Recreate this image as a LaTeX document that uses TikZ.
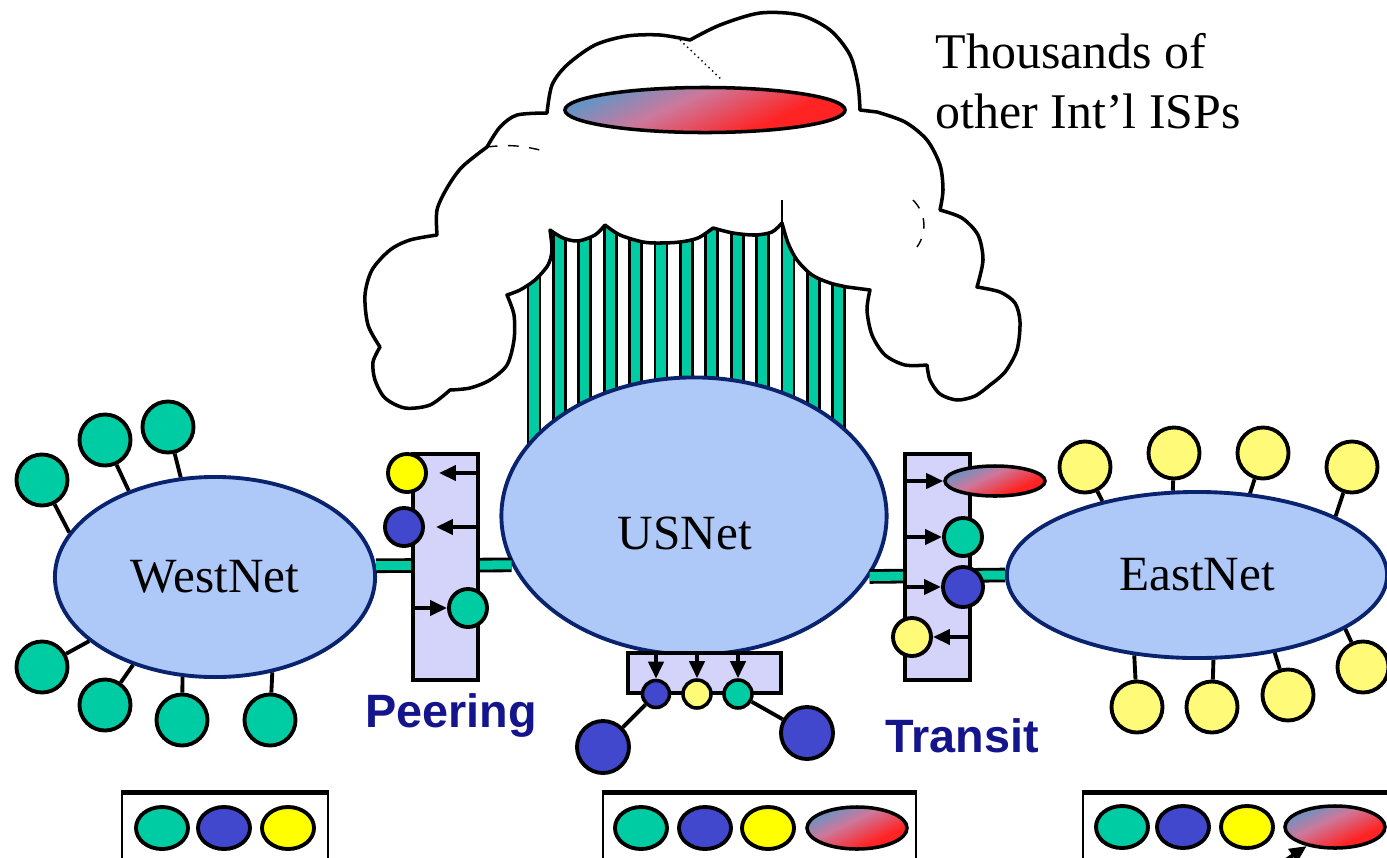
\documentclass[tikz,border=0pt]{standalone}
\usepackage{fontspec}
\setmainfont{Liberation Serif}
\setsansfont{Liberation Sans}
\usepackage{tikz}
\usetikzlibrary{arrows.meta,shapes.geometric}
\usepackage{xcolor}
\definecolor{NetFill}{RGB}{174,200,248}
\definecolor{NetLine}{RGB}{10,35,110}
\definecolor{NetGreen}{RGB}{0,204,163}
\definecolor{NetBlue}{RGB}{66,72,205}
\definecolor{NetYellow}{RGB}{255,255,0}
\definecolor{PaleYellow}{RGB}{255,250,120}
\definecolor{BoxFill}{RGB}{212,212,250}
\definecolor{GradBlue}{RGB}{55,160,215}
\definecolor{GradMauve}{RGB}{205,120,155}
\definecolor{GradRed}{RGB}{255,35,35}
\definecolor{TagBlue}{RGB}{20,20,140}
\pgfdeclareverticalshading{IspShade}{100bp}{color(0bp)=(GradRed); color(34bp)=(GradRed);
	color(57bp)=(GradMauve); color(82bp)=(GradBlue); color(100bp)=(GradBlue)}

\begin{document}
\begin{tikzpicture}[
			x=0.01cm, y=-0.01cm,
			NetStyle/.style={ellipse, draw=NetLine, line width=1.1pt, fill=NetFill,
				inner sep=0pt, font=\fontsize{14}{16}\selectfont},
			SatStyle/.style={circle, draw, line width=1.1pt, minimum size=0.51cm, inner sep=0pt},
			SmallStyle/.style={circle, draw, line width=1.1pt, minimum size=0.38cm, inner sep=0pt},
			TinyStyle/.style={circle, draw, line width=1pt, minimum size=0.27cm, inner sep=0pt},
			BoxStyle/.style={rectangle, draw, line width=1pt, fill=BoxFill, inner sep=0pt},
			GradStyle/.style={ellipse, draw, line width=1pt, inner sep=0pt,
				shading=IspShade, shading angle=25},
			LinkStyle/.style={draw=black, line width=0.8pt, double=NetGreen, double distance=0.09cm},
			WireStyle/.style={line width=1.1pt},
			ArrowStyle/.style={line width=1.1pt, -{Triangle[length=0.17cm, width=0.15cm]}},
			TagStyle/.style={font=\sffamily\bfseries\fontsize{13.3}{15}\selectfont, text=TagBlue,
				inner sep=0pt, anchor=base},
			LegendStyle/.style={ellipse, draw, line width=1.1pt, minimum width=0.52cm,
				minimum height=0.42cm, inner sep=0pt},
			]
			\useasboundingbox (0,0) rectangle (1387,857);
			\clip (0,0) rectangle (1387,857);
			% stripes under the cloud
			\foreach \i in {0,...,12}
				\draw[fill=NetGreen, line width=0.8pt] (528+25.4*\i,195) rectangle (540+25.4*\i,460);
			\draw[fill=white, line width=1pt, line join=round]
				plot[smooth] coordinates {(547,113) (552,85) (567,65) (595,45) (627,36) (660,35) (690,40)}
				-- plot[smooth] coordinates {(690,40) (720,25) (760,13) (800,15) (830,30) (850,55) (858,85) (860,110)}
				-- (877,112)
				-- plot[smooth] coordinates {(877,112) (905,122) (927,140) (940,165) (943,190) (940,210)}
				-- plot[smooth] coordinates {(940,210) (962,218) (978,235) (983,260) (977,287)}
				-- plot[smooth] coordinates {(977,287) (1000,292) (1015,303) (1020,322) (1017,350) (1005,372) (990,385)}
				-- plot[smooth] coordinates {(990,385) (975,396) (957,400) (940,394) (930,380) (927,365)}
				-- plot[smooth] coordinates {(927,365) (905,365) (885,355) (872,335) (867,310) (870,290)}
				-- (847,287)
				-- plot[smooth] coordinates {(847,287) (830,283) (812,275) (797,260) (788,243) (782,223)}
				-- plot[smooth] coordinates {(782,223) (772,232) (755,235) (733,233) (713,228)}
				-- plot[smooth] coordinates {(713,228) (698,238) (680,242) (660,243) (643,242) (620,235) (605,225)}
				-- plot[smooth] coordinates {(605,225) (595,235) (578,241) (563,238) (550,230)}
				-- plot[smooth] coordinates {(550,230) (552,250) (548,265) (535,280) (520,290) (507,295)}
				-- plot[smooth] coordinates {(507,295) (514,315) (514,340) (507,365) (490,380) (470,388) (450,390)}
				-- plot[smooth] coordinates {(450,390) (430,405) (405,408) (385,398) (375,380) (373,362) (380,347)}
				-- plot[smooth] coordinates {(380,347) (368,325) (365,295) (372,270) (390,250) (410,240) (437,235)}
				-- plot[smooth] coordinates {(437,235) (437,210) (447,188) (462,167) (487,147)}
				-- plot[smooth] coordinates {(487,147) (500,127) (517,115) (547,113)}
				-- cycle;
			\draw[line width=0.4pt, dashed] (487,147) to[bend left=10] (540,150);
			\draw[line width=0.4pt, densely dotted] (680,40) -- (722,80);
			\draw[line width=0.4pt, dashed] (913,200) to[bend left=40] (917,247);
			\draw[line width=0.5pt] (782,200) -- (782,223);
			\node [GradStyle, minimum width=2.8cm, minimum height=0.45cm] (isp) at (705,110) {};
			\node [anchor=north west, align=left, inner sep=0pt,
				font=\fontsize{14.2}{17}\selectfont] (others) at (935,33)
				{Thousands of\\other Int'l ISPs};

			\node [NetStyle, minimum width=3.2cm, minimum height=2.0cm] (west) at (215,577) {WestNet};
			\node [NetStyle, minimum width=3.85cm, minimum height=2.77cm] (us) at (694,516) {};
			\node [font=\fontsize{14}{16}\selectfont] (uslabel) at (685,533) {USNet};
			\node [NetStyle, minimum width=3.8cm, minimum height=1.66cm] (east) at (1197,575) {EastNet};

			\draw[LinkStyle] (west.4) -- (us.195.6);
			\draw[LinkStyle] (us.341.3) -- (east.west);

			\node [SatStyle, fill=NetGreen] (w1) at (42,480) {};
			\node [SatStyle, fill=NetGreen] (w2) at (105,440) {};
			\node [SatStyle, fill=NetGreen] (w3) at (168,427) {};
			\node [SatStyle, fill=NetGreen] (w4) at (42,667) {};
			\node [SatStyle, fill=NetGreen] (w5) at (105,705) {};
			\node [SatStyle, fill=NetGreen] (w6) at (182,720) {};
			\node [SatStyle, fill=NetGreen] (w7) at (270,720) {};
			\draw[WireStyle] (w1) -- (west.163);
			\draw[WireStyle] (w2) -- (west.135);
			\draw[WireStyle] (w3) -- (west.109);
			\draw[WireStyle] (w4) -- (west.207);
			\draw[WireStyle] (w5) -- (west.227);
			\draw[WireStyle] (w6) -- (west.252);
			\draw[WireStyle] (w7) -- (west.301);

			\node [SatStyle, fill=PaleYellow] (e1) at (1085,467) {};
			\node [SatStyle, fill=PaleYellow] (e2) at (1174,453) {};
			\node [SatStyle, fill=PaleYellow] (e3) at (1263,453) {};
			\node [SatStyle, fill=PaleYellow] (e4) at (1352,467) {};
			\node [SatStyle, fill=PaleYellow] (e5) at (1363,667) {};
			\node [SatStyle, fill=PaleYellow] (e6) at (1288,695) {};
			\node [SatStyle, fill=PaleYellow] (e7) at (1212,707) {};
			\node [SatStyle, fill=PaleYellow] (e8) at (1137,707) {};
			\draw[WireStyle] (e1) -- (east.142);
			\draw[WireStyle] (e2) -- (east.106);
			\draw[WireStyle] (e3) -- (east.57);
			\draw[WireStyle] (e4) -- (east.23);
			\draw[WireStyle] (e5) -- (east.340);
			\draw[WireStyle] (e6) -- (east.315);
			\draw[WireStyle] (e7) -- (east.281);
			\draw[WireStyle] (e8) -- (east.232);

			\node [BoxStyle, minimum width=0.65cm, minimum height=2.26cm] (pe) at (445.5,567) {};
			\node [SmallStyle, fill=NetYellow] (py) at (407,473) {};
			\node [SmallStyle, fill=NetBlue] (pb) at (404,527) {};
			\node [SmallStyle, fill=NetGreen] (pg) at (468,608) {};
			\draw[ArrowStyle, shorten >=0.11cm] (pe.east |- py) -- (py);
			\draw[ArrowStyle, shorten >=0.11cm] (pe.east |- pb) -- (pb);
			\draw[ArrowStyle] (pe.west |- pg) -- (pg);

			\node [BoxStyle, minimum width=0.65cm, minimum height=2.26cm] (tr) at (937.5,567) {};
			\node [GradStyle, minimum width=1.0cm, minimum height=0.30cm] (tg) at (995,481) {};
			\node [SmallStyle, fill=NetGreen] (tn) at (963,537) {};
			\node [SmallStyle, fill=NetBlue, minimum size=0.40cm] (tb) at (963,587) {};
			\node [SmallStyle, fill=PaleYellow] (ty) at (912,637) {};
			\draw[ArrowStyle] (tr.west |- tg) -- (tg);
			\draw[ArrowStyle] (tr.west |- tn) -- (tn);
			\draw[ArrowStyle] (tr.west |- tb) -- (tb);
			\draw[ArrowStyle] (tr.east |- ty) -- (ty);

			\node [BoxStyle, minimum width=1.53cm, minimum height=0.40cm] (bb) at (704.5,673) {};
			\node [TinyStyle, fill=NetBlue] (bu1) at (656,694) {};
			\node [TinyStyle, fill=PaleYellow, minimum size=0.28cm] (bu2) at (697,694) {};
			\node [TinyStyle, fill=NetGreen, minimum size=0.28cm] (bu3) at (738,694) {};
			\draw[ArrowStyle] (bu1 |- bb.north) -- (bu1);
			\draw[ArrowStyle] (bu2 |- bb.north) -- (bu2);
			\draw[ArrowStyle] (bu3 |- bb.north) -- (bu3);
			\node [SatStyle, fill=NetBlue, minimum size=0.52cm] (bigl) at (603,747) {};
			\node [SatStyle, fill=NetBlue, minimum size=0.52cm] (bigr) at (807,733) {};
			\draw[WireStyle] (bu1) -- (bigl);
			\draw[WireStyle] (bu3) -- (bigr);

			\node [TagStyle] (peering) at (451,727) {Peering};
			\node [TagStyle] (transit) at (962,752) {Transit};

			\node [rectangle, draw, line width=0.7pt, minimum width=2.06cm, minimum height=0.8cm] (lg1) at (225,834) {};
			\node [rectangle, draw, line width=0.7pt, minimum width=3.13cm, minimum height=0.8cm] (lg2) at (759.5,834) {};
			\node [rectangle, draw, line width=0.7pt, minimum width=3.17cm, minimum height=0.8cm] (lg3) at (1241.5,834) {};
			\draw[line width=1.4pt] (lg1.north west) -- (lg1.north east);
			\draw[line width=1.4pt] (lg2.north west) -- (lg2.north east);
			\draw[line width=1.4pt] (lg3.north west) -- (lg3.north east);
			\node [LegendStyle, fill=NetGreen] (la1) at (162,828) {};
			\node [LegendStyle, fill=NetBlue] (la2) at (224,828) {};
			\node [LegendStyle, fill=NetYellow] (la3) at (288,828) {};
			\node [LegendStyle, fill=NetGreen] (lb1) at (641,828) {};
			\node [LegendStyle, fill=NetBlue] (lb2) at (705,828) {};
			\node [LegendStyle, fill=NetYellow] (lb3) at (768,828) {};
			\node [GradStyle, minimum width=1.0cm, minimum height=0.42cm] (lb4) at (857,828) {};
			\node [LegendStyle, fill=NetGreen] (lc1) at (1122,827) {};
			\node [LegendStyle, fill=NetBlue] (lc2) at (1183,827) {};
			\node [LegendStyle, fill=NetYellow] (lc3) at (1247,827) {};
			\node [GradStyle, minimum width=1.0cm, minimum height=0.42cm] (lc4) at (1335,827) {};
			\coordinate (frag) at (1283,862);
			\draw[ArrowStyle] (frag) -- (lc4);
		\end{tikzpicture}
\end{document}
